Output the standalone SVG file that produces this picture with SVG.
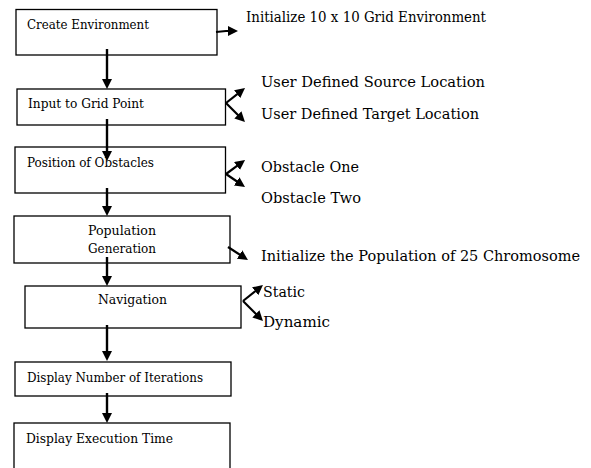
<svg xmlns="http://www.w3.org/2000/svg" width="591" height="468" viewBox="0 0 591 468">
<style>
.box{fill:#fff;stroke:#000;stroke-width:1.3}
text{font-family:'DejaVu Serif','Liberation Serif','Times New Roman',serif;fill:#000}
.bl{font-size:12px}
.sl{font-size:15px}
.c{fill:none;stroke:#000;stroke-width:2.4;marker-end:url(#ah)}
.cs{fill:none;stroke:#000;stroke-width:2.2;marker-end:url(#ah)}
</style>
<defs>
<marker id="ah" markerUnits="userSpaceOnUse" markerWidth="11" markerHeight="10" refX="3" refY="5" orient="auto">
<path d="M0,0 L10,5 L0,10 z" fill="#000"/>
</marker>
</defs>
<rect width="591" height="468" fill="#fff"/>
<g id="n1"><rect class="box" x="16" y="9.5" width="201" height="45.5"/><text class="bl" x="27" y="29" textLength="122" lengthAdjust="spacingAndGlyphs">Create Environment</text></g>
<g id="n2"><rect class="box" x="17" y="89" width="208.5" height="36"/><text class="bl" x="28" y="108" textLength="116" lengthAdjust="spacingAndGlyphs">Input to Grid Point</text></g>
<g id="n3"><rect class="box" x="15" y="147" width="210.5" height="46"/><text class="bl" x="27" y="167" textLength="127" lengthAdjust="spacingAndGlyphs">Position of Obstacles</text></g>
<g id="n4"><rect class="box" x="14" y="216" width="216" height="47"/><text class="bl" x="88" y="235" textLength="68" lengthAdjust="spacingAndGlyphs">Population</text><text class="bl" x="88" y="253" textLength="68" lengthAdjust="spacingAndGlyphs">Generation</text></g>
<g id="n5"><rect class="box" x="25" y="286" width="216" height="42"/><text class="bl" x="98" y="304" textLength="69" lengthAdjust="spacingAndGlyphs">Navigation</text></g>
<g id="n6"><rect class="box" x="15" y="362" width="216" height="34"/><text class="bl" x="27" y="382" textLength="176" lengthAdjust="spacingAndGlyphs">Display Number of Iterations</text></g>
<g id="n7"><rect class="box" x="14" y="423" width="216" height="60"/><text class="bl" x="26" y="443" textLength="147" lengthAdjust="spacingAndGlyphs">Display Execution Time</text></g>
<g id="labels">
<text class="sl" x="246" y="22" textLength="240" lengthAdjust="spacingAndGlyphs">Initialize 10 x 10 Grid Environment</text>
<text class="sl" x="261" y="87" textLength="224" lengthAdjust="spacingAndGlyphs">User Defined Source Location</text>
<text class="sl" x="261" y="119" textLength="218" lengthAdjust="spacingAndGlyphs">User Defined Target Location</text>
<text class="sl" x="261" y="172" textLength="98" lengthAdjust="spacingAndGlyphs">Obstacle One</text>
<text class="sl" x="261" y="203" textLength="100" lengthAdjust="spacingAndGlyphs">Obstacle Two</text>
<text class="sl" x="261" y="261" textLength="319" lengthAdjust="spacingAndGlyphs">Initialize the Population of 25 Chromosome</text>
<text class="sl" x="263" y="297" textLength="42" lengthAdjust="spacingAndGlyphs">Static</text>
<text class="sl" x="263" y="327" textLength="67" lengthAdjust="spacingAndGlyphs">Dynamic</text>
</g>
<g id="connectors">
<line class="c" x1="107" y1="49" x2="107" y2="82"/>
<line class="c" x1="107" y1="119" x2="107" y2="154"/>
<line class="c" x1="107" y1="188" x2="107" y2="209"/>
<line class="c" x1="107" y1="257" x2="107" y2="279"/>
<line class="c" x1="107" y1="325" x2="107" y2="354"/>
<line class="c" x1="107" y1="393" x2="107" y2="416"/>
<polyline class="cs" points="216,32 226,31 231,31"/>
<line class="cs" x1="226" y1="103" x2="239.5" y2="92.4"/>
<line class="cs" x1="226" y1="103" x2="240" y2="117"/>
<line class="cs" x1="226" y1="174" x2="239.4" y2="164.2"/>
<line class="cs" x1="226" y1="174" x2="239.2" y2="183"/>
<line class="cs" x1="228" y1="247" x2="242.1" y2="256.2"/>
<line class="cs" x1="243" y1="301" x2="257.5" y2="289.4"/>
<line class="cs" x1="243" y1="301" x2="258" y2="316"/>
</g>
</svg>
